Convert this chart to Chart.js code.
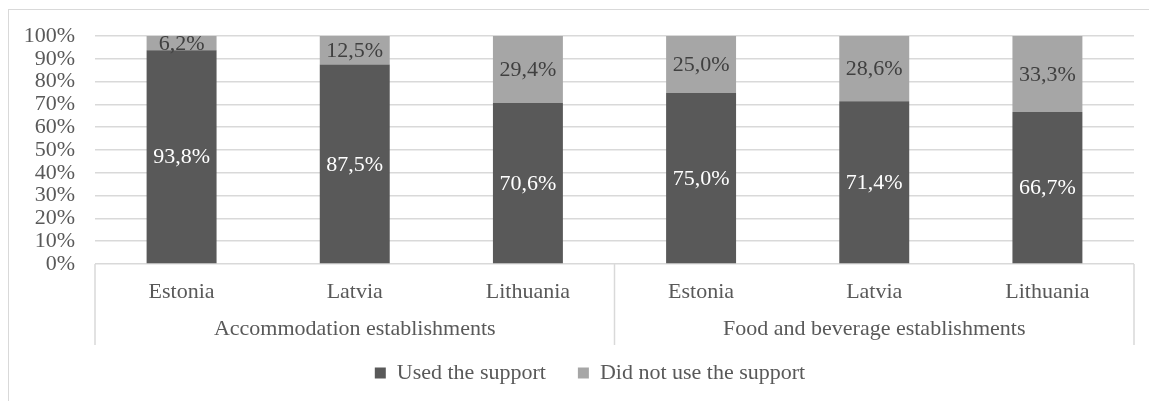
<!DOCTYPE html>
<html>
<head>
<meta charset="utf-8">
<script src="https://cdn.jsdelivr.net/npm/chart.js@4"></script>
<style>
  html, body { margin: 0; padding: 0; background: #fff; overflow: hidden; }
  #wrap { position: relative; width: 1149px; height: 401px; overflow: hidden; }
  #frame { position: absolute; left: 8px; top: 9px; width: 1250px; height: 500px; border: 1px solid #d9d9d9; box-sizing: border-box; }
  canvas { position: absolute; left: 0; top: 0; }
</style>
</head>
<body>
<div id="wrap">
  <div id="frame"></div>
  <canvas id="supportChart" width="1149" height="401"></canvas>
</div>
<script>
const countries = ['Estonia', 'Latvia', 'Lithuania', 'Estonia', 'Latvia', 'Lithuania'];
const groups = ['Accommodation establishments', 'Food and beverage establishments'];
const usedSupport = [93.8, 87.5, 70.6, 75.0, 71.4, 66.7];
const notUsedSupport = [6.2, 12.5, 29.4, 25.0, 28.6, 33.3];
const yTicks = [0, 10, 20, 30, 40, 50, 60, 70, 80, 90, 100];

const FONT = "'Liberation Serif', 'Times New Roman', serif";
const SIZE = 22;
const TEXT = '#595959';
const LINE = '#d9d9d9';

// value labels inside every bar segment
const segmentLabels = {
    id: 'segmentLabels',
    afterDatasetsDraw(chart) {
        const ctx = chart.ctx;
        ctx.save();
        ctx.font = SIZE + 'px ' + FONT;
        ctx.textAlign = 'center';
        ctx.textBaseline = 'middle';
        chart.data.datasets.forEach((ds, i) => {
            chart.getDatasetMeta(i).data.forEach((bar, j) => {
                const v = ds.data[j];
                const top = Math.min(bar.y, bar.base);
                const bottom = Math.max(bar.y, bar.base);
                ctx.fillStyle = i === 0 ? '#ffffff' : '#404040';
                ctx.fillText(v.toFixed(1).replace('.', ',') + '%', bar.x, (top + bottom) / 2 + 1);
            });
        });
        ctx.restore();
    }
};

// group captions and separators under the country labels
const groupAxis = {
    id: 'groupAxis',
    afterDraw(chart) {
        const ctx = chart.ctx;
        const area = chart.chartArea;
        const mid = (area.left + area.right) / 2;
        const bottom = 345;
        ctx.save();
        ctx.strokeStyle = LINE;
        ctx.lineWidth = 1.5;
        [area.left, mid, area.right].forEach(x => {
            ctx.beginPath();
            ctx.moveTo(x, area.bottom);
            ctx.lineTo(x, bottom);
            ctx.stroke();
        });
        ctx.font = SIZE + 'px ' + FONT;
        ctx.fillStyle = TEXT;
        ctx.textAlign = 'center';
        ctx.textBaseline = 'middle';
        ctx.fillText(groups[0], (area.left + mid) / 2, 329);
        ctx.fillText(groups[1], (mid + area.right) / 2, 329);
        ctx.restore();
    }
};

// legend sits a little right of the canvas centre
const legendShift = {
    id: 'legendShift',
    afterLayout(chart) {
        if (chart.legend) {
            chart.legend.left += 23;
            chart.legend.right += 23;
        }
    }
};

new Chart(document.getElementById('supportChart'), {
    type: 'bar',
    data: {
        labels: countries,
        datasets: [
            {
                label: 'Used the support',
                data: usedSupport,
                backgroundColor: '#595959',
                categoryPercentage: 1,
                barPercentage: 0.404
            },
            {
                label: 'Did not use the support',
                data: notUsedSupport,
                backgroundColor: '#a6a6a6',
                categoryPercentage: 1,
                barPercentage: 0.404
            }
        ]
    },
    options: {
        responsive: false,
        animation: false,
        layout: { padding: { top: 36, right: 15, left: 0, bottom: 7 } },
        scales: {
            x: {
                stacked: true,
                grid: { display: false, drawTicks: false },
                border: { display: false },
                ticks: {
                    color: TEXT,
                    font: { family: FONT, size: SIZE },
                    padding: 15,
                    maxRotation: 0
                },
                afterFit(scale) { scale.height = 66; }
            },
            y: {
                stacked: true,
                min: 0,
                max: 100,
                afterBuildTicks(scale) { scale.ticks = yTicks.map(v => ({ value: v })); },
                grid: { color: LINE, lineWidth: 1.5, drawTicks: false },
                border: { display: false },
                ticks: {
                    color: TEXT,
                    font: { family: FONT, size: SIZE },
                    padding: 20,
                    autoSkip: false,
                    callback: v => v + '%'
                },
                afterFit(scale) { scale.width = 95; }
            }
        },
        plugins: {
            tooltip: { enabled: false },
            legend: {
                position: 'bottom',
                labels: {
                    color: TEXT,
                    font: { family: FONT, size: SIZE },
                    boxWidth: 11,
                    boxHeight: 11,
                    padding: 32
                }
            }
        }
    },
    plugins: [segmentLabels, groupAxis, legendShift]
});
</script>
</body>
</html>
